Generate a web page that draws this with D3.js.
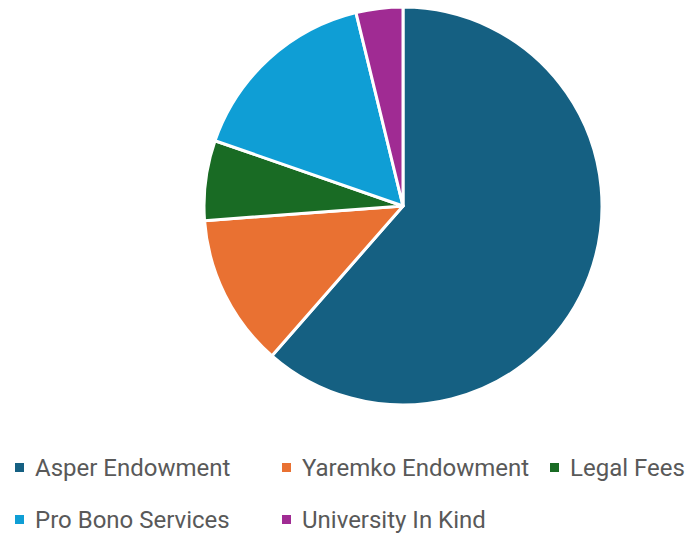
<!DOCTYPE html>
<html>
<head>
<meta charset="utf-8">
<script src="https://cdn.jsdelivr.net/npm/d3@7"></script>
<style>
  body { margin: 0; background: #fff; }
  svg { display: block; }
</style>
</head>
<body>
<script>
const WIDTH = 688;
const HEIGHT = 533;

// Data (percent of total)
const categories = ["Asper Endowment", "Yaremko Endowment", "Legal Fees", "Pro Bono Services", "University In Kind"];
const values = [61.5, 12.4, 6.5, 15.9, 3.8];
const colors = ["#156082", "#E97132", "#196B24", "#0F9ED5", "#A02B93"];

const dataset = categories.map((c, i) => ({ name: c, value: values[i], color: colors[i] }));

const svg = d3.select("body").append("svg")
    .attr("width", WIDTH)
    .attr("height", HEIGHT);

// Pie
const cx = 403, cy = 206, radius = 199;

const pie = d3.pie()
    .value(d => d.value)
    .sort(null);

const arc = d3.arc()
    .innerRadius(0)
    .outerRadius(radius);

svg.append("g")
    .attr("transform", "translate(" + cx + "," + cy + ")")
  .selectAll("path")
    .data(pie(dataset))
    .enter()
    .append("path")
      .attr("d", arc)
      .attr("fill", d => d.data.color)
      .attr("stroke", "#fff")
      .attr("stroke-width", 3)
      .attr("stroke-linejoin", "round");

// Legend - 3 columns, 2 rows
const colX = [15, 282, 550];
const rowY = [468, 520];

const legend = svg.append("g").attr("class", "legend")
  .selectAll("g")
    .data(dataset)
    .enter()
    .append("g")
      .attr("transform", (d, i) => "translate(" + colX[i % 3] + "," + rowY[Math.floor(i / 3)] + ")");

legend.append("rect")
    .attr("x", 0)
    .attr("y", -5)
    .attr("width", 9)
    .attr("height", 9)
    .attr("fill", d => d.color);

legend.append("text")
    .attr("x", 20)
    .attr("y", 0)
    .attr("dy", "0.35em")
    .style("font-family", "Roboto, sans-serif")
    .style("font-size", "24px")
    .style("fill", "#595959")
    .text(d => d.name);
</script>
</body>
</html>
